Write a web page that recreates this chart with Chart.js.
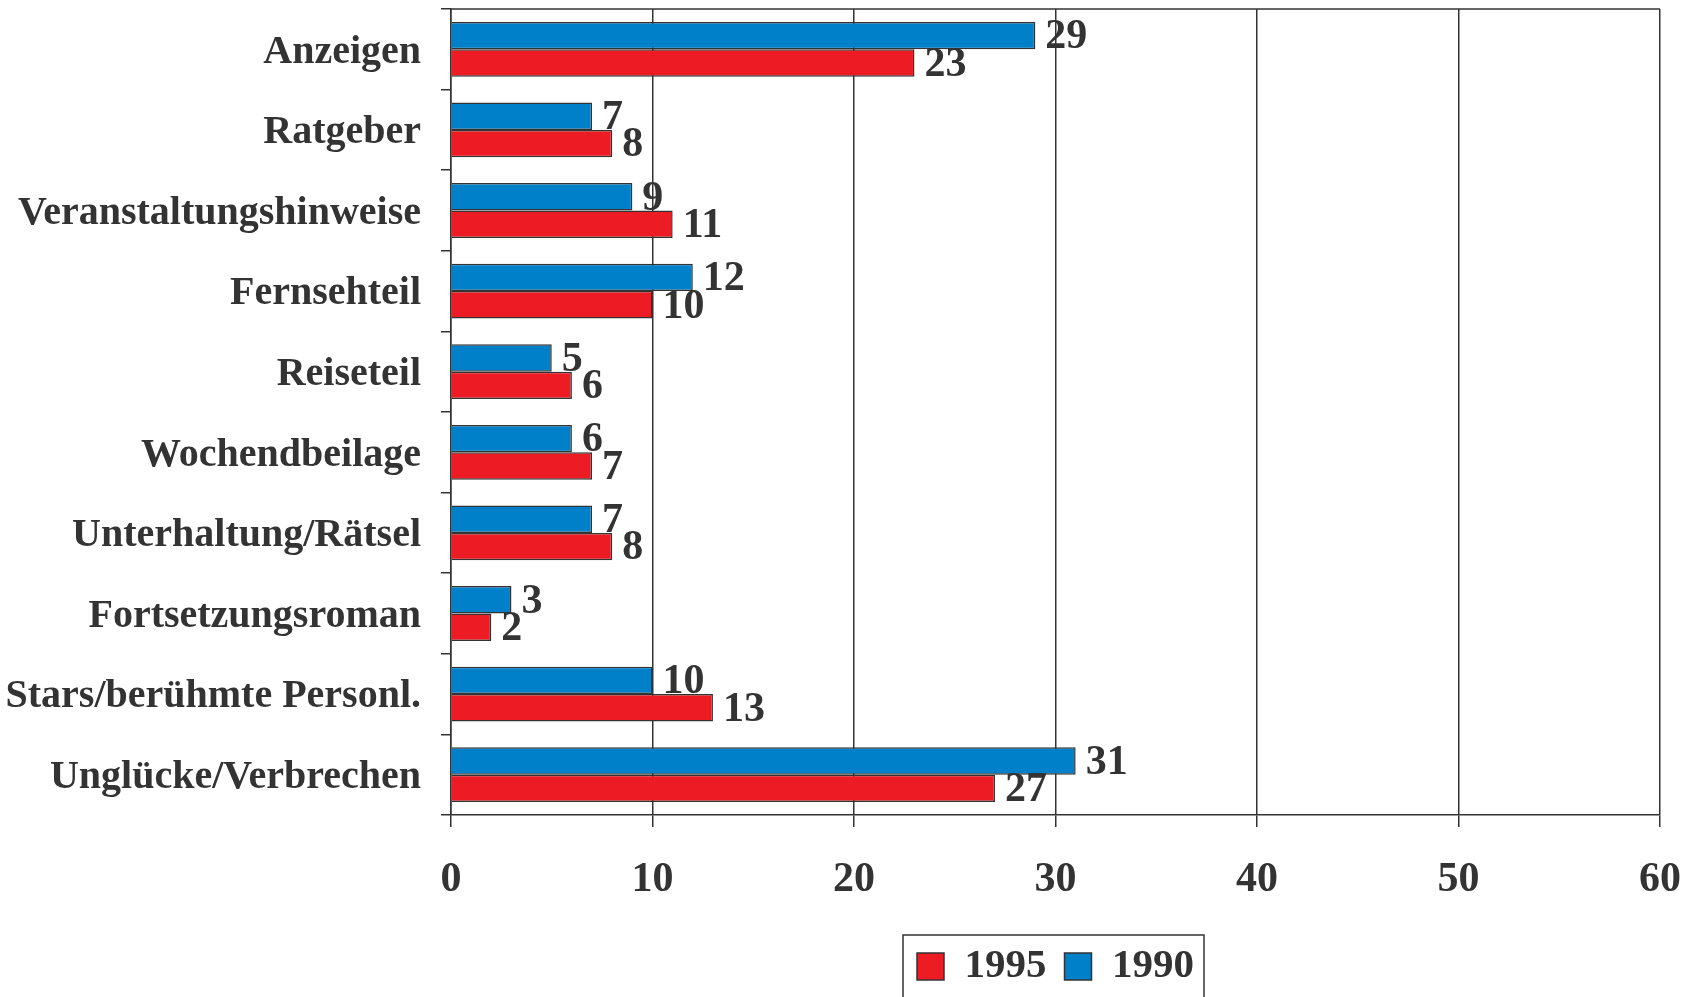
<!DOCTYPE html>
<html>
<head>
<meta charset="utf-8">
<script src="https://cdn.jsdelivr.net/npm/chart.js@4/dist/chart.umd.min.js"></script>
<style>
  body { margin: 0; background: #fff; overflow: hidden; }
</style>
</head>
<body>
<canvas id="bar-chart" width="1689" height="997"></canvas>
<script>
let categories = ["Anzeigen", "Ratgeber", "Veranstaltungshinweise", "Fernsehteil", "Reiseteil",
  "Wochendbeilage", "Unterhaltung/Rätsel", "Fortsetzungsroman", "Stars/berühmte Personl.", "Unglücke/Verbrechen"];
let values1990 = [29, 7, 9, 12, 5, 6, 7, 3, 10, 31];
let values1995 = [23, 8, 11, 10, 6, 7, 8, 2, 13, 27];
let xTicks = [0, 10, 20, 30, 40, 50, 60];

let serif = "'Liberation Serif', 'Times New Roman', serif";
let ink = "#333333";

// numbers right of each bar
const valueLabels = {
  id: "valueLabels",
  afterDatasetsDraw(chart) {
    let ctx = chart.ctx;
    ctx.save();
    ctx.font = "bold 42px " + serif;
    ctx.fillStyle = ink;
    ctx.textAlign = "left";
    ctx.textBaseline = "middle";
    chart.data.datasets.forEach((ds, d) => {
      chart.getDatasetMeta(d).data.forEach((bar, i) => {
        ctx.fillText(ds.data[i], bar.x + 10, bar.y + 2);
      });
    });
    ctx.restore();
  }
};

// top frame line and box round the legend
const frame = {
  id: "frame",
  afterDraw(chart) {
    let ctx = chart.ctx;
    let area = chart.chartArea;
    ctx.save();
    ctx.strokeStyle = ink;
    ctx.lineWidth = 1.5;
    ctx.beginPath();
    ctx.moveTo(area.left, area.top);
    ctx.lineTo(area.right, area.top);
    ctx.stroke();

    let lg = chart.legend;
    let boxes = lg.legendHitBoxes;
    let left = Math.min(...boxes.map(b => b.left)) - 14;
    let right = Math.max(...boxes.map(b => b.left + b.width)) + 10;
    let top = lg.top + 7;
    ctx.strokeRect(left, top, right - left, 120);
    ctx.restore();
  }
};

let ctxBar = document.getElementById("bar-chart").getContext("2d");
let chart = new Chart(ctxBar, {
  type: "bar",
  data: {
    labels: categories,
    datasets: [{
      label: "1990",
      data: values1990,
      backgroundColor: "#0080C8",
      borderColor: ink,
      borderWidth: 1.5,
      categoryPercentage: 0.68,
      barPercentage: 1.0
    }, {
      label: "1995",
      data: values1995,
      backgroundColor: "#ED1C24",
      borderColor: ink,
      borderWidth: 1.5,
      categoryPercentage: 0.68,
      barPercentage: 1.0
    }]
  },
  options: {
    indexAxis: "y",
    responsive: false,
    animation: false,
    layout: { padding: { top: 9, right: 29, left: 0, bottom: 0 } },
    plugins: {
      tooltip: { enabled: false },
      legend: {
        position: "bottom",
        fullSize: false,
        reverse: true,
        labels: {
          boxWidth: 27,
          boxHeight: 27,
          padding: 18,
          color: ink,
          font: { family: serif, size: 41, weight: "bold" }
        }
      }
    },
    scales: {
      x: {
        min: 0,
        max: 60,
        afterBuildTicks: scale => { scale.ticks = xTicks.map(v => ({ value: v })); },
        afterFit: scale => {
          scale.height = 113;
          scale.paddingLeft = 0;
          scale.paddingRight = 0;
        },
        grid: { color: ink, lineWidth: 1.5, tickLength: 12, tickColor: ink },
        border: { color: ink, width: 1.5 },
        ticks: {
          padding: 28,
          color: ink,
          maxRotation: 0,
          font: { family: serif, size: 42, weight: "bold" }
        }
      },
      y: {
        afterFit: scale => {
          scale.width = 451;
          scale.paddingTop = 0;
          scale.paddingBottom = 0;
        },
        grid: { drawOnChartArea: false, color: ink, lineWidth: 1.5, tickLength: 10 },
        border: { color: ink, width: 1.5 },
        ticks: {
          padding: 20,
          labelOffset: 3,
          color: ink,
          font: { family: serif, size: 40, weight: "bold" }
        }
      }
    }
  },
  plugins: [valueLabels, frame]
});
</script>
</body>
</html>
